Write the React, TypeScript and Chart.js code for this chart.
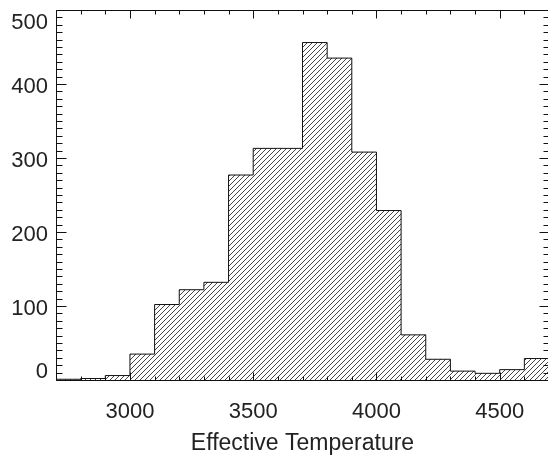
import React, { useEffect, useRef } from "react";
import { Chart, registerables } from "chart.js";

Chart.register(...registerables);

// Histogram bins (left edges) and counts
const BIN_STARTS = [2700, 2800, 2900, 3000, 3100, 3200, 3300, 3400, 3500, 3600, 3700, 3800, 3900, 4000, 4100, 4200, 4300, 4400, 4500, 4600];
const BIN_WIDTH = 100;
const COUNTS = [1, 2, 6, 35, 102, 122, 132, 277, 313, 313, 456, 435, 308, 229, 61, 28, 12, 9, 14, 29];

const X_TICKS = [3000, 3500, 4000, 4500];
const Y_TICKS = [0, 100, 200, 300, 400, 500];
const X_MIN = 2700;
const X_MAX = 4700;
const Y_MIN = 0;
const Y_MAX = 500;
const X_MINOR_STEP = 100;
const X_MAJOR_STEP = 500;
const Y_MINOR_STEP = 10;
const Y_MAJOR_STEP = 100;
const X_LABEL = "Effective Temperature";

const FONT = '"Liberation Sans", Arial, Helvetica, sans-serif';
const TEXT = "#222";
const INK = "#111";

const framePlugin = {
  id: "idlFrame",
  afterDatasetsDraw(chart: any) {
    const { ctx, chartArea: a, scales } = chart;
    const xs = scales.x;
    const ys = scales.y;
    const L = Math.round(a.left) + 0.5;
    const R = Math.round(a.right) + 0.5;
    const T = Math.round(a.top) + 0.5;
    const B = Math.round(a.bottom) + 0.5;
    ctx.save();
    ctx.strokeStyle = INK;
    ctx.lineWidth = 1;
    ctx.beginPath();
    ctx.moveTo(L, T);
    ctx.lineTo(R, T);
    ctx.lineTo(R, B);
    ctx.lineTo(L, B);
    ctx.closePath();
    for (let v = X_MIN; v <= X_MAX; v += X_MINOR_STEP) {
      const px = Math.round(xs.getPixelForValue(v)) + 0.5;
      const len = v % X_MAJOR_STEP === 0 ? 8 : 4;
      ctx.moveTo(px, B);
      ctx.lineTo(px, B - len);
      ctx.moveTo(px, T);
      ctx.lineTo(px, T + len);
    }
    for (let v = Y_MIN; v <= Y_MAX; v += Y_MINOR_STEP) {
      const py = Math.round(ys.getPixelForValue(v)) + 0.5;
      const len = v % Y_MAJOR_STEP === 0 ? 10 : 6;
      ctx.moveTo(L, py);
      ctx.lineTo(L + len, py);
      ctx.moveTo(R, py);
      ctx.lineTo(R - len, py);
    }
    ctx.stroke();

    // y tick labels, kept inside the plot's vertical extent (IDL style)
    ctx.fillStyle = TEXT;
    ctx.font = `22px ${FONT}`;
    ctx.textAlign = "right";
    ctx.textBaseline = "middle";
    for (const v of Y_TICKS) {
      let cy = ys.getPixelForValue(v) + 3;
      cy = Math.max(a.top + 12.5, Math.min(a.bottom - 8, cy));
      ctx.fillText(String(v), a.left - 8, cy);
    }
    ctx.restore();
  },
};

function makeHatch(ctx: CanvasRenderingContext2D) {
  const c = document.createElement("canvas");
  c.width = 5;
  c.height = 5;
  const g = c.getContext("2d")!;
  g.fillStyle = "#454545";
  for (let i = 0; i < 5; i++) g.fillRect(i, 4 - i, 1, 1);
  return ctx.createPattern(c, "repeat");
}

export default function App() {
  const ref = useRef<HTMLCanvasElement>(null);

  useEffect(() => {
    const canvas = ref.current!;
    const ctx = canvas.getContext("2d")!;
    const hatch = makeHatch(ctx);

    const points = BIN_STARTS.map((x, i) => ({ x, y: COUNTS[i] }));
    points.push({ x: BIN_STARTS[BIN_STARTS.length - 1] + BIN_WIDTH, y: COUNTS[COUNTS.length - 1] });

    const chart = new Chart(canvas, {
      type: "line",
      data: {
        datasets: [
          {
            data: points,
            stepped: true,
            borderColor: INK,
            borderWidth: 1,
            backgroundColor: hatch as any,
            fill: "origin",
            pointRadius: 0,
          } as any,
        ],
      },
      options: {
        animation: false,
        responsive: false,
        devicePixelRatio: 1,
        layout: { padding: { top: 10, right: 3, left: 0, bottom: 0 } },
        plugins: { legend: { display: false }, tooltip: { enabled: false } },
        scales: {
          x: {
            type: "linear",
            min: X_MIN,
            max: X_MAX,
            grid: { display: false, drawTicks: false },
            border: { display: false },
            afterBuildTicks: (s: any) => {
              s.ticks = X_TICKS.map((v) => ({ value: v }));
            },
            afterFit: (s: any) => {
              s.height = 78;
              s.paddingLeft = 0;
              s.paddingRight = 0;
            },
            ticks: {
              font: { family: FONT, size: 22 },
              color: TEXT,
              padding: 19,
              maxRotation: 0,
              autoSkip: false,
              callback: (v: any) => String(v),
            },
            title: {
              display: true,
              text: X_LABEL,
              font: { family: FONT, size: 23 },
              color: TEXT,
              padding: { top: 0, bottom: 1 },
            },
          },
          y: {
            type: "linear",
            min: Y_MIN,
            max: Y_MAX,
            grid: { display: false, drawTicks: false },
            border: { display: false },
            afterBuildTicks: (s: any) => {
              s.ticks = Y_TICKS.map((v) => ({ value: v }));
            },
            afterFit: (s: any) => {
              s.width = 56;
              s.paddingTop = 0;
              s.paddingBottom = 0;
            },
            ticks: {
              display: false,
              font: { family: FONT, size: 22 },
            },
          },
        },
      },
      plugins: [framePlugin],
    });
    return () => chart.destroy();
  }, []);

  return (
    <div style={{ position: "fixed", left: 0, top: 0, width: 548, height: 458, overflow: "hidden", background: "#fff" }}>
      <canvas ref={ref} width={552} height={458} style={{ display: "block", width: 552, height: 458 }} />
    </div>
  );
}
